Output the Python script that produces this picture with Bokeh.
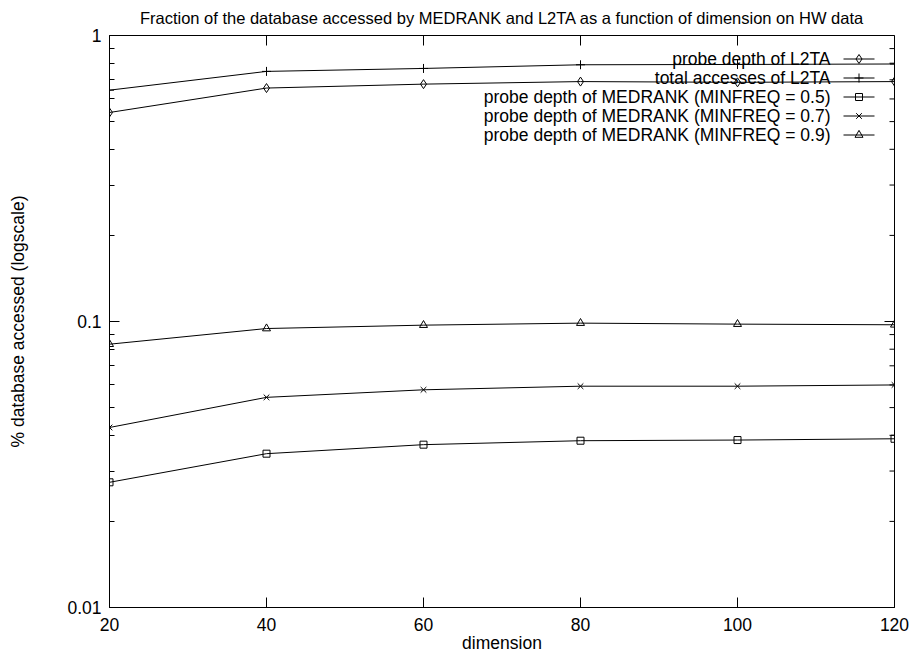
import math
from bokeh.plotting import figure
from bokeh.models import (Range1d, FixedTicker, CustomJSTickFormatter,
                          LinearScale, Label)
from bokeh.embed import file_html
from bokeh.resources import INLINE

# ---- data -------------------------------------------------------------
dimension = [20, 40, 60, 80, 100, 120]
l2ta_probe = [0.538, 0.655, 0.676, 0.690, 0.686, 0.690]
l2ta_total = [0.644, 0.749, 0.767, 0.790, 0.792, 0.795]
med_05 = [0.0274, 0.0345, 0.0371, 0.0383, 0.0385, 0.0389]
med_07 = [0.0426, 0.0543, 0.0577, 0.0594, 0.0594, 0.0600]
med_09 = [0.0833, 0.0945, 0.0971, 0.0987, 0.0979, 0.0974]

series_labels = [
    "probe depth of L2TA",
    "total accesses of L2TA",
    "probe depth of MEDRANK (MINFREQ = 0.5)",
    "probe depth of MEDRANK (MINFREQ = 0.7)",
    "probe depth of MEDRANK (MINFREQ = 0.9)",
]
series_values = [l2ta_probe, l2ta_total, med_05, med_07, med_09]

x_ticks = [20, 40, 60, 80, 100, 120]
y_ticks = [0.01, 0.1, 1]
y_minor = [0.02, 0.03, 0.04, 0.05, 0.06, 0.07, 0.08, 0.09,
           0.2, 0.3, 0.4, 0.5, 0.6, 0.7, 0.8, 0.9]

title = "Fraction of the database accessed by MEDRANK and L2TA as a function of dimension on HW data"

# ---- styling ----------------------------------------------------------
FONT = "Liberation Sans"
FS = "17.5px"
TITLE_FS = "16.5px"
W, H = 913, 656
BL, BR, BT, BB = 109, 19, 35, 49
FRAME_W = W - BL - BR
FRAME_H = H - BT - BB
X0, X1 = 20, 120
Y0, Y1 = 0.01, 1

p = figure(width=W, height=H, x_range=Range1d(X0, X1), y_range=Range1d(Y0, Y1),
           y_axis_type="log", output_backend="svg", toolbar_location=None,
           min_border_left=BL, min_border_right=BR, min_border_top=BT,
           min_border_bottom=BB, title=title)
p.xgrid.visible = False
p.ygrid.visible = False
p.outline_line_color = "black"
p.outline_line_width = 1
p.background_fill_color = "white"
p.border_fill_color = "white"

p.title.text_font = FONT
p.title.text_font_size = TITLE_FS
p.title.text_font_style = "normal"
p.title.align = "center"
p.title.vertical_align = "top"
p.title.standoff = 14
p.title.text_color = "black"

MAJ, MIN = 10, 5


def style_axis(ax):
    ax.major_tick_in = MAJ
    ax.major_tick_out = 0
    ax.minor_tick_in = MIN
    ax.minor_tick_out = 0
    ax.axis_line_color = "black"
    ax.major_tick_line_color = "black"
    ax.minor_tick_line_color = "black"
    ax.major_label_text_font = FONT
    ax.major_label_text_font_size = FS
    ax.major_label_text_color = "black"
    ax.axis_label_text_font = FONT
    ax.axis_label_text_font_size = FS
    ax.axis_label_text_font_style = "normal"
    ax.axis_label_text_color = "black"


xax = p.xaxis[0]
xax.ticker = FixedTicker(ticks=x_ticks, minor_ticks=[])
xax.axis_label = "dimension"
style_axis(xax)
xax.major_label_standoff = 10
xax.axis_label_standoff = -1

yax = p.yaxis[0]
yax.ticker = FixedTicker(ticks=y_ticks, minor_ticks=y_minor)
yax.formatter = CustomJSTickFormatter(code="return tick.toString();")
yax.axis_label = "% database accessed (logscale)"
style_axis(yax)
yax.major_label_standoff = 8
yax.axis_label_standoff = 36

# mirrored ticks on the top and right edges (half of each dash is clipped)
p.scatter(x_ticks, [Y1] * len(x_ticks), marker="dash", angle=math.pi / 2,
          size=2 * MAJ, line_color="black", line_width=1)
p.scatter([X1] * len(y_ticks), y_ticks, marker="dash", size=2 * MAJ,
          line_color="black", line_width=1)
p.scatter([X1] * len(y_minor), y_minor, marker="dash", size=2 * MIN,
          line_color="black", line_width=1)

# ---- series -----------------------------------------------------------
markers = [
    dict(marker="diamond", size=9),
    dict(marker="cross", size=9),
    dict(marker="square", size=7),
    dict(marker="x", size=8),
    dict(marker="triangle", size=8),
]

for vals, mk in zip(series_values, markers):
    p.line(dimension, vals, line_color="black", line_width=1)
    p.scatter(dimension, vals, marker=mk["marker"], size=mk["size"],
              line_color="black", fill_color=None, line_width=1)

# ---- key (gnuplot style: right-aligned text, sample on the right) -----
# a pixel coordinate system over the frame, used only for the key layout
p.extra_x_ranges = {"px": Range1d(0, FRAME_W)}
p.extra_y_ranges = {"py": Range1d(0, FRAME_H)}
p.extra_x_scales = {"px": LinearScale()}
p.extra_y_scales = {"py": LinearScale()}

ROW_H = 19
KEY_TOP = 49 - BT          # first row top, from frame top
SAMPLE_LEFT = 843 - BL     # from frame left
SAMPLE_W = 31
TEXT_RIGHT = 830 - BL

for i, (lab, mk) in enumerate(zip(series_labels, markers)):
    yc = FRAME_H - KEY_TOP - ROW_H * i - ROW_H / 2
    p.line([SAMPLE_LEFT, SAMPLE_LEFT + SAMPLE_W], [yc, yc], line_color="black",
           line_width=1, x_range_name="px", y_range_name="py")
    p.scatter([SAMPLE_LEFT + SAMPLE_W / 2], [yc], marker=mk["marker"],
              size=mk["size"], line_color="black", fill_color=None,
              line_width=1, x_range_name="px", y_range_name="py")
    p.add_layout(Label(x=TEXT_RIGHT, y=yc, x_range_name="px", y_range_name="py",
                       text=lab, text_align="right", text_baseline="middle",
                       text_font=FONT, text_font_size=FS, text_color="black"))

open("out.html", "w").write(file_html(p, INLINE))
